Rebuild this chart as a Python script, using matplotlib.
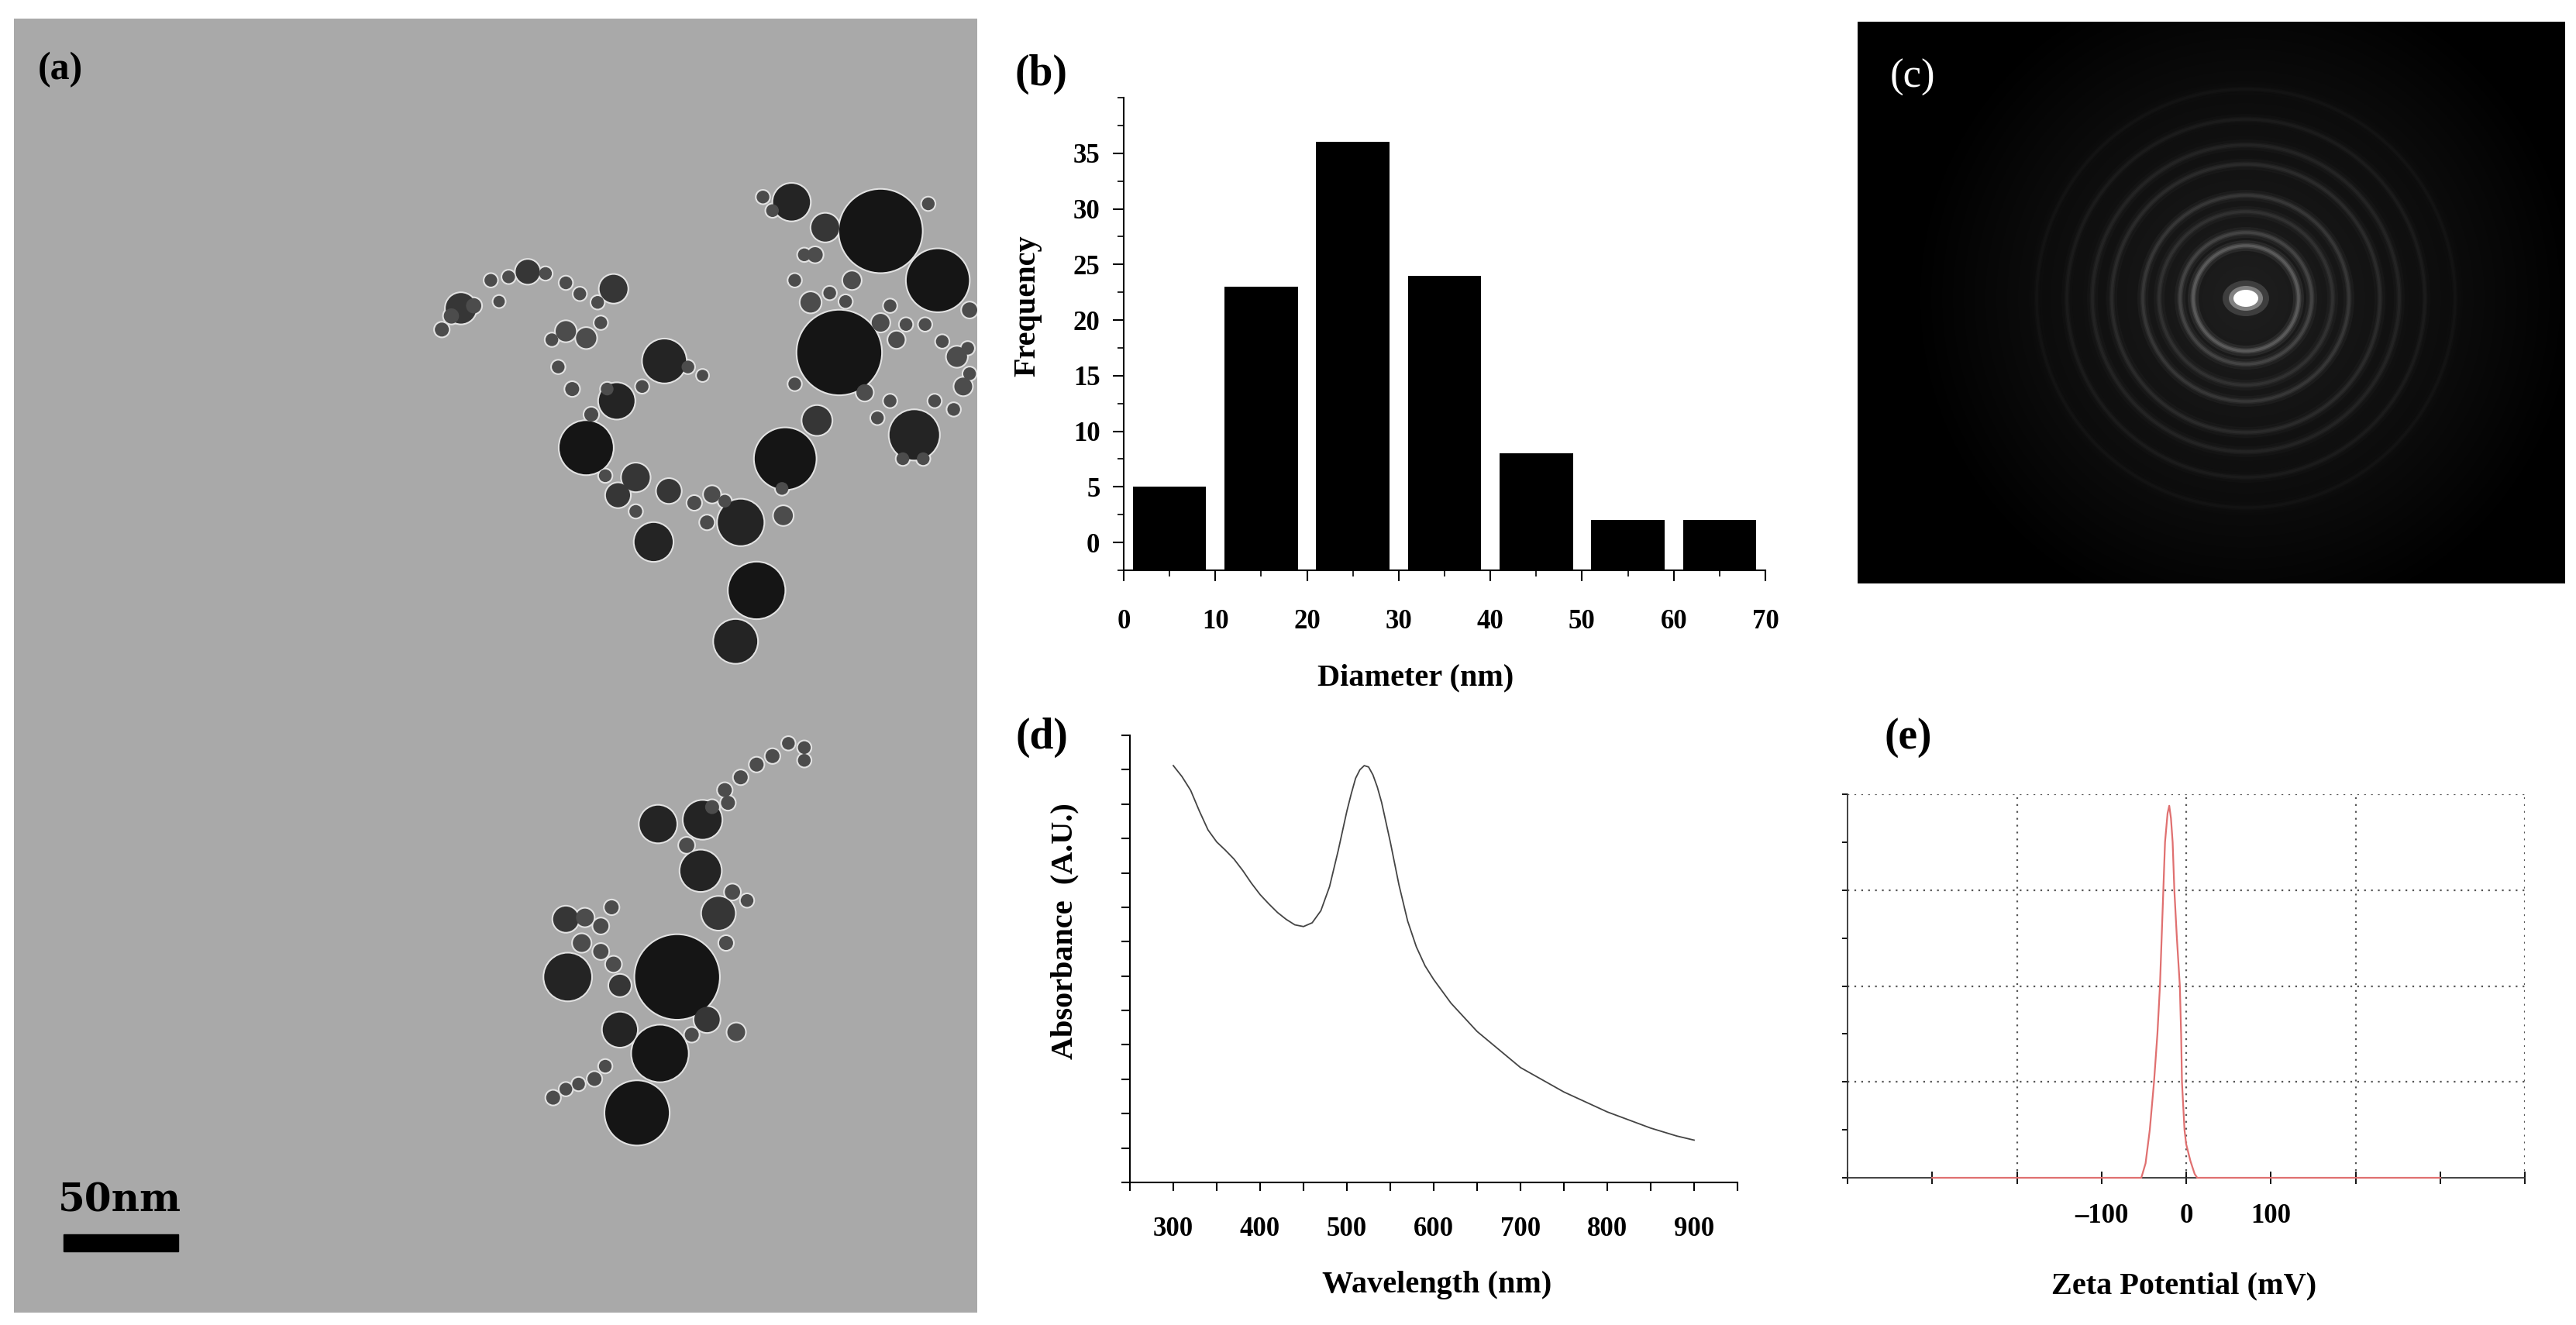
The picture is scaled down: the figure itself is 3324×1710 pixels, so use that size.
import numpy as np
import matplotlib
matplotlib.use("Agg")
import matplotlib.pyplot as plt
from matplotlib.patches import Circle, Ellipse, Rectangle
from matplotlib.ticker import MultipleLocator, FixedLocator, NullFormatter

plt.rcParams["font.family"] = "serif"
plt.rcParams["font.serif"] = ["Liberation Serif", "DejaVu Serif"]
plt.rcParams["font.weight"] = "bold"
plt.rcParams["axes.labelweight"] = "bold"

# ---------------- data ----------------
# (a) TEM particles, read off the micrograph (x, y, radius) in image units
part_x = [1385, 1475, 1320, 1235, 1190, 1157, 1165, 1045, 922, 970, 1028, 1245, 1298, 1438, 1285,
          965, 830, 725, 1000, 972, 1052, 890, 922, 1505, 1515, 1232, 1340, 1275, 1385, 1410,
          1282, 1360, 1120, 1092, 1112,
          695, 772, 800, 858, 890, 912, 940, 945, 868, 878, 900, 930, 955, 1010, 1082, 1105,
          1200, 1215, 1265, 1250, 1305, 1330, 1400, 1425, 1455, 1482, 1525, 1470, 1400, 1380,
          1420, 1452, 1250, 1500, 952, 1000, 1140, 1230, 1460, 785, 710, 745, 1525, 1522,
          1065, 1038, 1002, 893, 975, 1035, 1105, 1102, 1130, 890, 975, 1112, 1088, 1158,
          1140, 1165, 1190, 1215, 1240, 1265, 1265, 1080, 1152, 1175, 1142, 920, 945, 962,
          915, 945, 965, 870, 890, 910, 935, 952, 1145, 1120]
part_y = [272, 330, 415, 540, 695, 755, 615, 425, 527, 472, 638, 238, 268, 512, 495,
          340, 320, 363, 562, 583, 578, 390, 398, 420, 455, 607, 330, 356, 380, 400,
          300, 462, 582, 592, 615,
          388, 330, 326, 322, 333, 346, 356, 380, 400, 432, 458, 488, 458, 455, 432, 442,
          232, 248, 300, 330, 345, 355, 360, 382, 382, 402, 440, 472, 472, 492,
          540, 540, 452, 482, 560, 602, 590, 575, 240, 355, 372, 360, 365, 410,
          1150, 1240, 1310, 1150, 1212, 970, 965, 1025, 1075, 1082, 1160, 1200, 1218, 1215,
          930, 915, 900, 890, 875, 880, 895, 995, 1050, 1060, 1110, 1080, 1090, 1068,
          1110, 1120, 1135, 1292, 1282, 1276, 1270, 1255, 945, 950]
part_r = [65, 49, 66, 48, 44, 34, 36, 34, 42, 28, 30, 29, 22, 39, 23,
          22, 19, 24, 22, 19, 19, 16, 16, 16, 14, 15, 14, 16, 14, 13,
          12, 13, 13, 11, 11,
          11, 10, 10, 10, 10, 10, 10, 10, 10, 10, 11, 11, 10, 10, 10, 9,
          10, 10, 10, 10, 10, 10, 10, 10, 10, 10, 10, 10, 10, 10,
          10, 10, 10, 10, 10, 10, 10, 10, 10, 9, 12, 12, 12, 10,
          66, 44, 50, 37, 27, 29, 30, 32, 26, 20, 17, 20, 11, 14,
          11, 11, 11, 11, 10, 10, 10, 12, 12, 10, 11, 14, 12, 11,
          14, 12, 12, 11, 10, 10, 11, 10, 11, 11]

# (b) size histogram
bin_centers = [5, 15, 25, 35, 45, 55, 65]
frequency = [5, 23, 36, 24, 8, 2, 2]

# (c) SAED ring radii (px) and relative brightness
ring_radius = [68, 85, 112, 133, 173, 198, 231, 270]
ring_alpha = [0.22, 0.15, 0.09, 0.11, 0.08, 0.065, 0.045, 0.03]

# (d) UV-vis spectrum
wavelength = [300, 310, 320, 330, 340, 350, 360, 370, 380, 390, 400, 410, 420, 430, 440, 450,
              460, 470, 480, 490, 500, 505, 510, 515, 520, 525, 530, 535, 540, 550, 560, 570,
              580, 590, 600, 620, 650, 700, 750, 800, 850, 880, 900]
absorbance = [1.212, 1.18, 1.14, 1.08, 1.025, 0.99, 0.966, 0.94, 0.907, 0.87, 0.837, 0.81, 0.785,
              0.765, 0.749, 0.744, 0.755, 0.79, 0.86, 0.965, 1.08, 1.13, 1.175, 1.20, 1.212,
              1.208, 1.185, 1.15, 1.105, 0.99, 0.865, 0.76, 0.685, 0.63, 0.59, 0.521, 0.439,
              0.334, 0.263, 0.205, 0.158, 0.135, 0.123]

# (e) zeta potential distribution
zeta_mv = [-300, -60, -53, -48, -43, -38, -34, -31, -29, -27, -25, -22, -20, -18, -16, -14,
           -11, -7.5, -6, -5, -2, 0, 5, 10, 13, 300]
zeta_counts = [0, 0, 0, 0.3, 1.0, 2.0, 3.0, 4.0, 5.0, 6.0, 7.0, 7.6, 7.76, 7.5, 7.0, 6.0,
               5.0, 4.0, 3.0, 2.0, 1.0, 0.7, 0.35, 0.08, 0, 0]

W, H = 3324, 1710
fig = plt.figure(figsize=(W / 100, H / 100), dpi=100)
fig.patch.set_facecolor("white")


def fx(px):
    return px / W


def fy(py):
    return 1 - py / H


TICK = 25
LAB = 29
PANEL = 40

# ---------------- (a) TEM image ----------------
ax_a = fig.add_axes([fx(18), fy(1694), (1261 - 18) / W, (1694 - 24) / H])
ax_a.set_facecolor("#a9a9a9")
ax_a.set_xlim(22, 1537)
ax_a.set_ylim(1545, 22)
ax_a.set_xticks([])
ax_a.set_yticks([])
for sp in ax_a.spines.values():
    sp.set_visible(False)

r = np.array(part_r, dtype=float)
unit_pt = (1243 / 1515) * 0.72  # image units -> points
diam = 2 * r * unit_pt
shade = np.where(r >= 40, "#151515", np.where(r >= 27, "#242424", np.where(r >= 17, "#363636", "#4c4c4c")))
ax_a.scatter(part_x, part_y, s=(diam + 3.0) ** 2, c="#e2e2e2", linewidths=0, zorder=2)
ax_a.scatter(part_x, part_y, s=diam ** 2, c=shade, linewidths=0, zorder=3)

ax_a.add_patch(Rectangle((0.0515, 1 - 0.9527), 0.1191, 0.0132, transform=ax_a.transAxes,
                         color="black", zorder=5))
ax_a.text(0.1094, 1 - 0.914, "50nm", transform=ax_a.transAxes, ha="center", va="center",
          fontsize=36, family="DejaVu Serif", fontweight="bold", zorder=5)
fig.text(fx(78), fy(90), "(a)", ha="center", va="center", fontsize=36, fontweight="bold")

# ---------------- (b) histogram ----------------
ax_b = fig.add_axes([fx(1450), fy(736), (2278 - 1450) / W, (736 - 126) / H])
ax_b.bar(bin_centers, np.array(frequency) + 2.5, bottom=-2.5, width=8, color="black")
ax_b.set_xlim(0, 70)
ax_b.set_ylim(-2.5, 40)
ax_b.xaxis.set_major_locator(MultipleLocator(10))
ax_b.xaxis.set_minor_locator(MultipleLocator(5))
ax_b.yaxis.set_major_locator(FixedLocator([0, 5, 10, 15, 20, 25, 30, 35]))
ax_b.yaxis.set_minor_locator(MultipleLocator(2.5))
for side in ["top", "right"]:
    ax_b.spines[side].set_visible(False)
for side in ["left", "bottom"]:
    ax_b.spines[side].set_linewidth(1.5)
ax_b.tick_params(axis="both", which="major", labelsize=TICK, length=10, width=1.5)
ax_b.tick_params(axis="both", which="minor", length=6, width=1.2)
ax_b.tick_params(axis="x", which="major", pad=26)
ax_b.tick_params(axis="y", which="major", pad=12)
ax_b.set_xlabel("Diameter (nm)", fontsize=LAB)
ax_b.set_ylabel("Frequency", fontsize=LAB)
ax_b.xaxis.set_label_coords(0.455, -0.198)
ax_b.yaxis.set_label_coords(-0.128, 0.56)
fig.text(fx(1343), fy(96), "(b)", ha="center", va="center", fontsize=PANEL, fontweight="bold")

# ---------------- (c) SAED pattern ----------------
ax_c = fig.add_axes([fx(2397), fy(753), (3310 - 2397) / W, (753 - 28) / H])
ax_c.set_facecolor("black")
ax_c.set_xlim(0, 913)
ax_c.set_ylim(725, 0)
ax_c.set_xticks([])
ax_c.set_yticks([])
for sp in ax_c.spines.values():
    sp.set_visible(False)
cx, cy = 501, 357
# soft diffuse glow around the direct beam
for rad in range(420, 20, -14):
    ax_c.add_patch(Circle((cx, cy), rad, color="white", alpha=0.0075, lw=0))
for rad, a in zip(ring_radius, ring_alpha):
    ax_c.add_patch(Circle((cx, cy), rad, fill=False, edgecolor="white", lw=10, alpha=a * 0.3))
    ax_c.add_patch(Circle((cx, cy), rad, fill=False, edgecolor="white", lw=5, alpha=a * 0.5))
    ax_c.add_patch(Circle((cx, cy), rad, fill=False, edgecolor="white", lw=2.5, alpha=a * 0.6))
ax_c.add_patch(Ellipse((cx, cy), 60, 46, color="white", alpha=0.15, lw=0))
ax_c.add_patch(Ellipse((cx, cy), 44, 32, color="white", alpha=0.35, lw=0))
ax_c.add_patch(Ellipse((cx, cy), 32, 22, color="white", lw=0))
ax_c.text(71, 72, "(c)", color="white", ha="center", va="center", fontsize=38, fontweight="normal")

# ---------------- (d) UV-vis ----------------
ax_d = fig.add_axes([fx(1458), fy(1526), (2242 - 1458) / W, (1526 - 949) / H])
ax_d.plot(wavelength, absorbance, color="#444444", lw=1.3)
ax_d.set_xlim(250, 950)
ax_d.set_ylim(0, 1.3)
ax_d.xaxis.set_major_locator(FixedLocator([300, 400, 500, 600, 700, 800, 900]))
ax_d.xaxis.set_minor_locator(MultipleLocator(50))
ax_d.yaxis.set_major_locator(MultipleLocator(0.1))
ax_d.yaxis.set_major_formatter(NullFormatter())
for side in ["top", "right"]:
    ax_d.spines[side].set_visible(False)
for side in ["left", "bottom"]:
    ax_d.spines[side].set_linewidth(1.5)
ax_d.tick_params(axis="both", which="major", labelsize=TICK, length=8, width=1.5)
ax_d.tick_params(axis="x", which="minor", length=8, width=1.5)
ax_d.tick_params(axis="x", which="major", pad=24)
ax_d.set_xlabel("Wavelength (nm)", fontsize=LAB)
ax_d.set_ylabel("Absorbance  (A.U.)", fontsize=LAB)
ax_d.xaxis.set_label_coords(0.505, -0.198)
ax_d.yaxis.set_label_coords(-0.084, 0.563)
fig.text(fx(1344), fy(952), "(d)", ha="center", va="center", fontsize=PANEL, fontweight="bold")

# ---------------- (e) zeta potential ----------------
ax_e = fig.add_axes([fx(2384), fy(1520), (3258 - 2384) / W, (1520 - 1025) / H])
ax_e.set_xlim(-400, 400)
ax_e.set_ylim(0, 8)
for gx in [-200, 0, 200, 400]:
    ax_e.axvline(gx, color="#555555", lw=1.6, ls=(0, (1, 3)), zorder=1)
for gy in [2, 4, 6, 8]:
    ax_e.axhline(gy, color="#555555", lw=1.6, ls=(0, (1, 3)), zorder=1)
ax_e.plot(zeta_mv, zeta_counts, color="#e07070", lw=1.6, zorder=4, clip_on=False)
for side in ["top", "right"]:
    ax_e.spines[side].set_visible(False)
for side in ["left", "bottom"]:
    ax_e.spines[side].set_linewidth(1.3)
    ax_e.spines[side].set_color("#333333")
ax_e.xaxis.set_major_locator(MultipleLocator(100))
ax_e.set_xticklabels(["" if v not in (-100, 0, 100) else ("\u2013100" if v < 0 else str(int(v)))
                      for v in ax_e.get_xticks()])
ax_e.yaxis.set_major_locator(MultipleLocator(1))
ax_e.yaxis.set_major_formatter(NullFormatter())
ax_e.tick_params(axis="x", direction="inout", length=12, width=1.3, labelsize=TICK, pad=18)
ax_e.tick_params(axis="y", direction="out", length=5, width=1.3)
ax_e.set_xlabel("Zeta Potential (mV)", fontsize=LAB)
ax_e.xaxis.set_label_coords(0.497, -0.246)
fig.text(fx(2462), fy(952), "(e)", ha="center", va="center", fontsize=PANEL, fontweight="bold")

fig.savefig("out.png", dpi=100, facecolor="white")
